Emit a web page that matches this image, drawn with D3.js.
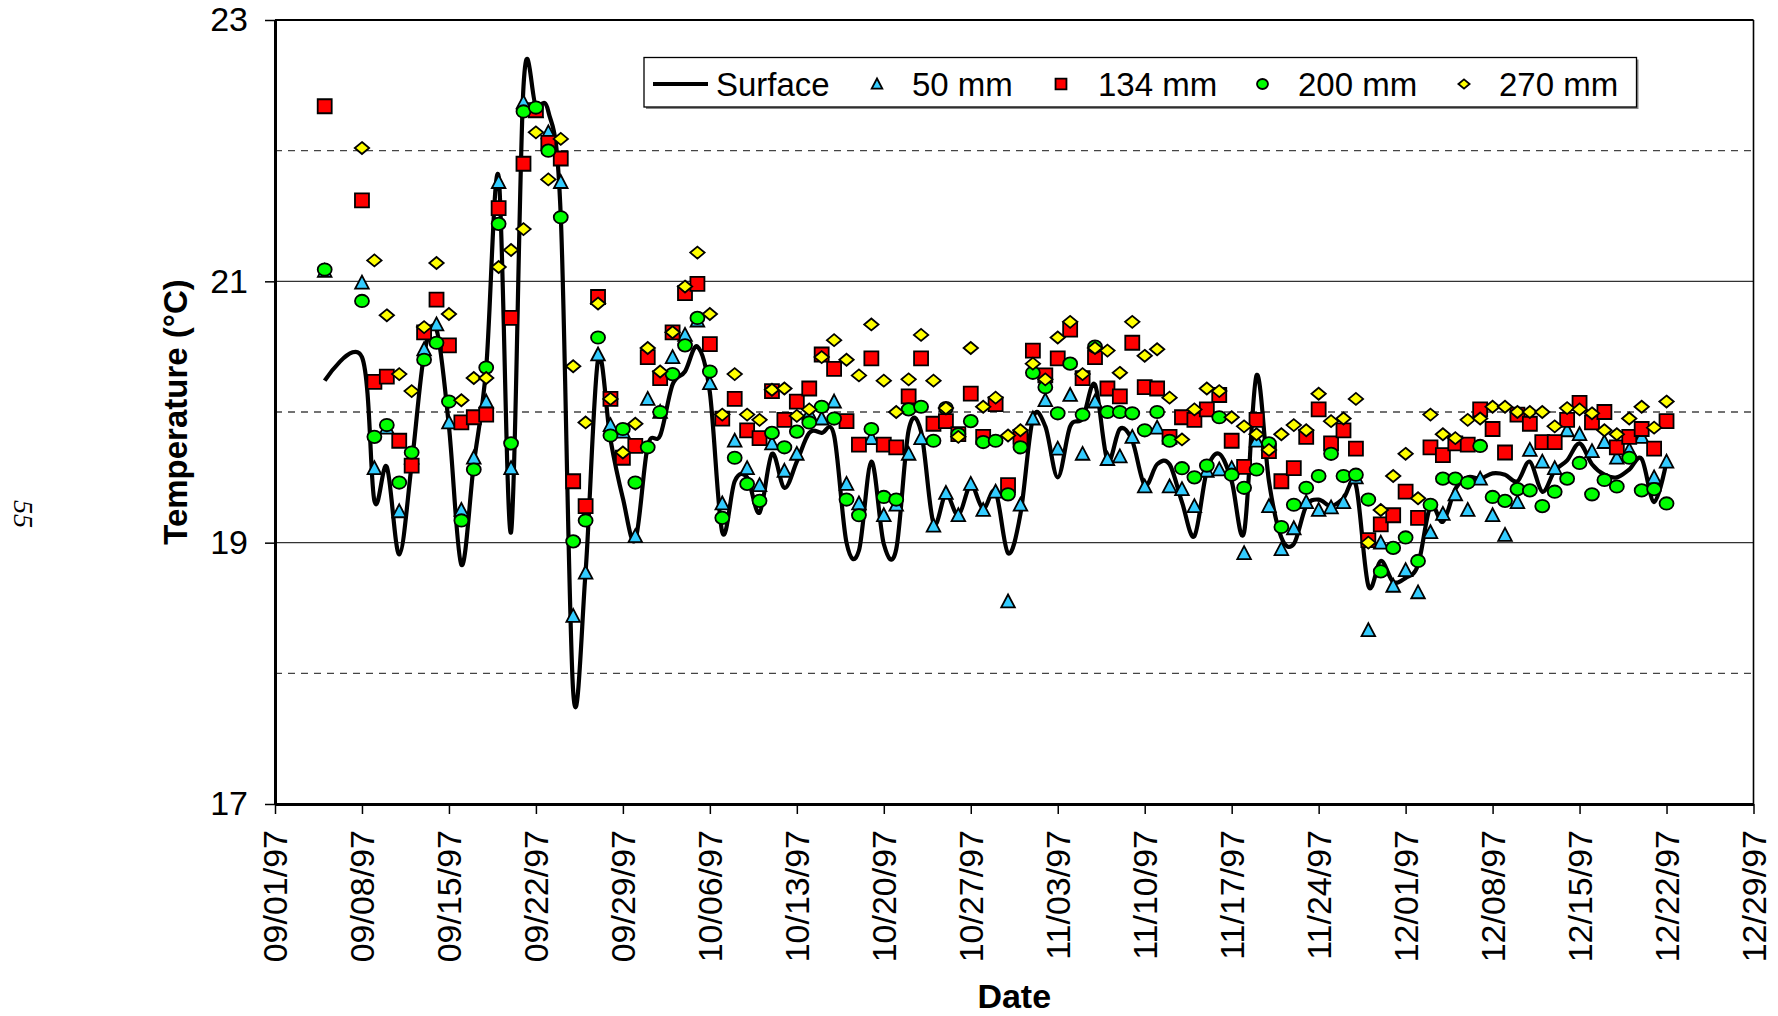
<!DOCTYPE html>
<html>
<head>
<meta charset="utf-8">
<script src="https://cdn.jsdelivr.net/npm/d3@7/dist/d3.min.js"></script>
<style>
  html, body { margin: 0; padding: 0; background: #ffffff; }
  svg { display: block; font-family: "Liberation Sans", Arial, sans-serif; }
</style>
</head>
<body>
<svg id="chart" width="1778" height="1016"></svg>
<script>
// Daily soil temperature readings, fall 1997
const dates = [
  "09/05/97",
  "09/08/97","09/09/97","09/10/97","09/11/97","09/12/97","09/13/97","09/14/97","09/15/97",
  "09/16/97","09/17/97","09/18/97","09/19/97","09/20/97","09/21/97","09/22/97","09/23/97",
  "09/24/97","09/25/97","09/26/97","09/27/97","09/28/97","09/29/97","09/30/97",
  "10/01/97","10/02/97","10/03/97","10/04/97","10/05/97","10/06/97","10/07/97","10/08/97",
  "10/09/97","10/10/97","10/11/97","10/12/97","10/13/97","10/14/97","10/15/97","10/16/97",
  "10/17/97","10/18/97","10/19/97","10/20/97","10/21/97","10/22/97","10/23/97","10/24/97",
  "10/25/97","10/26/97","10/27/97","10/28/97","10/29/97","10/30/97","10/31/97",
  "11/01/97","11/02/97","11/03/97","11/04/97","11/05/97","11/06/97","11/07/97","11/08/97",
  "11/09/97","11/10/97","11/11/97","11/12/97","11/13/97","11/14/97","11/15/97","11/16/97",
  "11/17/97","11/18/97","11/19/97","11/20/97","11/21/97","11/22/97","11/23/97","11/24/97",
  "11/25/97","11/26/97","11/27/97","11/28/97","11/29/97","11/30/97",
  "12/01/97","12/02/97","12/03/97","12/04/97","12/05/97","12/06/97","12/07/97","12/08/97",
  "12/09/97","12/10/97","12/11/97","12/12/97","12/13/97","12/14/97","12/15/97","12/16/97",
  "12/17/97","12/18/97","12/19/97","12/20/97","12/21/97","12/22/97"
];

const surface = [
  20.24,
  20.42,19.32,19.58,18.91,19.60,20.44,20.63,19.89,
  18.83,19.60,20.34,21.80,19.08,22.49,22.34,22.30,
  21.50,17.86,18.78,20.40,19.79,19.34,19.02,
  19.74,19.82,20.21,20.31,20.50,20.15,19.08,19.47,
  19.50,19.23,19.68,19.42,19.62,19.84,19.84,19.82,
  19.00,18.94,19.62,18.99,18.95,19.86,19.85,19.15,
  19.37,19.21,19.44,19.26,19.39,18.92,19.22,
  19.95,19.89,19.50,19.89,19.95,20.21,19.63,19.87,
  19.78,19.44,19.60,19.60,19.31,19.05,19.55,19.68,
  19.47,19.08,20.28,19.47,19.04,18.99,19.28,19.33,
  19.28,19.34,19.44,18.67,18.86,18.70,
  18.73,18.83,19.28,19.16,19.41,19.50,19.49,19.53,
  19.52,19.47,19.62,19.39,19.55,19.63,19.76,19.60,
  19.52,19.50,19.56,19.64,19.31,19.62
];

const depth50 = [
  21.08,
  20.99,19.57,19.88,19.24,19.65,20.48,20.67,19.92,
  19.25,19.65,20.08,21.76,19.57,22.37,22.30,22.14,
  21.76,18.44,18.77,20.44,19.90,19.85,19.05,
  20.10,20.00,20.42,20.59,20.70,20.22,19.30,19.78,
  19.57,19.44,19.76,19.55,19.68,19.99,19.95,20.08,
  19.45,19.30,19.80,19.21,19.29,19.68,19.80,19.13,
  19.38,19.21,19.45,19.25,19.39,18.55,19.29,
  19.95,20.09,19.72,20.13,19.68,20.08,19.64,19.66,
  19.81,19.43,19.88,19.43,19.41,19.28,19.55,19.56,
  19.57,18.92,19.78,19.28,18.95,19.11,19.31,19.25,
  19.27,19.31,19.50,18.33,19.00,18.67,
  18.79,18.62,19.08,19.22,19.37,19.25,19.49,19.21,
  19.06,19.31,19.71,19.62,19.57,19.86,19.83,19.70,
  19.77,19.65,19.71,19.81,19.50,19.62
];

const depth134 = [
  22.34,
  21.62,20.23,20.27,19.78,19.59,20.61,20.86,20.51,
  19.92,19.96,19.98,21.56,20.72,21.90,22.31,22.06,
  21.94,19.47,19.28,20.88,20.10,19.65,19.74,
  20.42,20.26,20.61,20.91,20.98,20.52,19.95,20.10,
  19.86,19.80,20.16,19.94,20.08,20.18,20.44,20.33,
  19.93,19.75,20.41,19.75,19.73,20.12,20.41,19.91,
  19.93,19.83,20.14,19.81,20.06,19.44,19.81,
  20.47,20.28,20.41,20.63,20.26,20.42,20.18,20.12,
  20.53,20.19,20.18,19.81,19.96,19.94,20.02,20.13,
  19.78,19.58,19.94,19.70,19.47,19.57,19.81,20.02,
  19.76,19.86,19.72,19.02,19.14,19.21,
  19.39,19.19,19.73,19.67,19.76,19.75,20.02,19.87,
  19.69,19.98,19.91,19.77,19.77,19.94,20.07,19.92,
  20.00,19.73,19.81,19.87,19.72,19.93
];

const depth200 = [
  21.09,
  20.85,19.81,19.90,19.46,19.69,20.40,20.53,20.08,
  19.17,19.56,20.34,21.44,19.76,22.30,22.33,22.00,
  21.49,19.01,19.17,20.57,19.82,19.87,19.46,
  19.73,20.00,20.29,20.51,20.72,20.31,19.19,19.65,
  19.45,19.32,19.84,19.73,19.85,19.92,20.04,19.95,
  19.33,19.21,19.87,19.35,19.33,20.02,20.04,19.78,
  20.03,19.83,19.93,19.77,19.78,19.37,19.73,
  20.30,20.19,19.99,20.37,19.98,20.50,20.00,20.00,
  19.99,19.86,20.00,19.78,19.57,19.50,19.59,19.96,
  19.52,19.42,19.56,19.76,19.12,19.29,19.42,19.51,
  19.68,19.51,19.52,19.33,18.78,18.96,
  19.04,18.86,19.29,19.49,19.49,19.46,19.74,19.35,
  19.32,19.41,19.40,19.28,19.39,19.49,19.61,19.37,
  19.48,19.43,19.65,19.40,19.41,19.30
];

const depth270 = [
  null,
  22.02,21.16,20.74,20.29,20.16,20.65,21.14,20.75,
  20.09,20.26,20.26,21.11,21.24,21.40,22.14,21.78,
  22.09,20.35,19.92,20.83,20.10,19.69,19.91,
  20.49,20.31,20.61,20.96,21.22,20.75,19.98,20.29,
  19.98,19.94,20.17,20.18,19.97,20.02,20.42,20.55,
  20.40,20.28,20.67,20.24,20.00,20.25,20.59,20.24,
  20.03,19.81,20.49,20.04,20.11,19.82,19.86,
  20.37,20.25,20.57,20.69,20.29,20.49,20.47,20.30,
  20.69,20.43,20.48,20.11,19.79,20.02,20.18,20.16,
  19.96,19.89,19.83,19.71,19.83,19.90,19.86,20.14,
  19.93,19.95,20.10,19.00,19.25,19.51,
  19.68,19.34,19.98,19.83,19.80,19.94,19.95,20.04,
  20.04,20.00,20.00,20.00,19.89,20.03,20.02,19.99,
  19.86,19.83,19.95,20.04,19.88,20.08
];

const xTickLabels = [
  "09/01/97","09/08/97","09/15/97","09/22/97","09/29/97","10/06/97",
  "10/13/97","10/20/97","10/27/97","11/03/97","11/10/97","11/17/97",
  "11/24/97","12/01/97","12/08/97","12/15/97","12/22/97","12/29/97"
];
const yTickLabels = [17, 19, 21, 23];
const yMinorGrid = [18, 20, 22];
const seriesNames = ["Surface", "50 mm", "134 mm", "200 mm", "270 mm"];

// ---------------------------------------------------------------
const parse = d3.timeParse("%m/%d/%y");
const fmt = d3.timeFormat("%m/%d/%y");
const svg = d3.select("#chart");

const plot = { left: 275, right: 1753.5, top: 20, bottom: 804 };

const x = d3.scaleTime()
  .domain([parse(xTickLabels[0]), parse(xTickLabels[xTickLabels.length - 1])])
  .range([plot.left, plot.right]);
const y = d3.scaleLinear().domain([17, 23]).range([plot.bottom, plot.top]);

svg.append("rect").attr("width", 1778).attr("height", 1016).attr("fill", "#fff");

// gridlines
const grid = svg.append("g");
grid.selectAll("line.major").data([19, 21]).join("line")
  .attr("x1", plot.left).attr("x2", plot.right)
  .attr("y1", d => y(d)).attr("y2", d => y(d))
  .attr("stroke", "#333").attr("stroke-width", 1.3);
grid.selectAll("line.minor").data(yMinorGrid).join("line")
  .attr("x1", plot.left).attr("x2", plot.right)
  .attr("y1", d => y(d)).attr("y2", d => y(d))
  .attr("stroke", "#444").attr("stroke-width", 1.3)
  .attr("stroke-dasharray", "7,6");

// frame (top and right edges)
svg.append("line").attr("x1", plot.left).attr("x2", plot.right)
  .attr("y1", plot.top).attr("y2", plot.top)
  .attr("stroke", "#000").attr("stroke-width", 2);
svg.append("line").attr("x1", plot.right).attr("x2", plot.right)
  .attr("y1", plot.top).attr("y2", plot.bottom)
  .attr("stroke", "#000").attr("stroke-width", 1.6);

// y axis
const yAxis = svg.append("g")
  .attr("transform", `translate(${plot.left},0)`)
  .call(d3.axisLeft(y).tickValues(yTickLabels).tickFormat(d3.format("d"))
    .tickSize(10).tickPadding(17).tickSizeOuter(0));
yAxis.select(".domain").attr("stroke", "#000").attr("stroke-width", 3);
yAxis.selectAll(".tick line").attr("stroke", "#000").attr("stroke-width", 1.5);
yAxis.selectAll(".tick text")
  .attr("font-family", "Liberation Sans, Arial, sans-serif")
  .attr("font-size", 34).attr("fill", "#000");

// x axis
const xAxis = svg.append("g")
  .attr("transform", `translate(0,${plot.bottom})`)
  .call(d3.axisBottom(x).tickValues(xTickLabels.map(parse)).tickFormat(fmt)
    .tickSize(10).tickSizeOuter(0));
xAxis.select(".domain").attr("stroke", "#000").attr("stroke-width", 3);
xAxis.selectAll(".tick line").attr("stroke", "#000").attr("stroke-width", 1.5);
xAxis.selectAll(".tick text")
  .attr("font-family", "Liberation Sans, Arial, sans-serif")
  .attr("font-size", 34).attr("fill", "#000")
  .attr("transform", "rotate(-90)")
  .attr("text-anchor", "end")
  .attr("x", -26).attr("y", 0).attr("dy", "0.35em");

// axis titles
svg.append("text")
  .attr("transform", "translate(186.5,412) rotate(-90)")
  .attr("text-anchor", "middle")
  .attr("font-size", 33).attr("font-weight", "bold")
  .text("Temperature (°C)");
svg.append("text")
  .attr("x", (plot.left + plot.right) / 2).attr("y", 1008)
  .attr("text-anchor", "middle")
  .attr("font-size", 34).attr("font-weight", "bold")
  .text("Date");

// page number
svg.append("text")
  .attr("transform", "translate(14,514) rotate(90)")
  .attr("text-anchor", "middle")
  .attr("font-family", "Liberation Serif, Times New Roman, serif")
  .attr("font-style", "italic")
  .attr("font-size", 28)
  .text("55");

// ---------------------------------------------------------------
// marker shapes
const markers = {
  tri: (s) => { const w = 6.8 * s, h = 7 * s; return `M0,${-h}L${w},${h * 0.85}L${-w},${h * 0.85}Z`; },
  sq: (s) => { const h = 7 * s; return `M${-h},${-h}H${h}V${h}H${-h}Z`; },
  dia: (s) => { const w = 7.2 * s, h = 6 * s; return `M0,${-h}L${w},0L0,${h}L${-w},0Z`; }
};

const rows = dates.map((d, i) => ({
  date: parse(d),
  s: surface[i], t: depth50[i], r: depth134[i], g: depth200[i], yl: depth270[i]
}));

// surface line, smoothed
const line = d3.line()
  .x(d => x(d.date)).y(d => y(d.s))
  .curve(d3.curveCardinal.tension(0));
svg.append("path").datum(rows)
  .attr("d", line).attr("fill", "none")
  .attr("stroke", "#000").attr("stroke-width", 4.2)
  .attr("stroke-linejoin", "round");

function applyStroke(sel) {
  return sel.attr("stroke", "#000").attr("stroke-width", 1.8);
}

// 50 mm
applyStroke(svg.append("g").selectAll("path").data(rows.filter(d => d.t != null)).join("path")
  .attr("d", markers.tri(1))
  .attr("transform", d => `translate(${x(d.date)},${y(d.t)})`)
  .attr("fill", "#33CCFF"));
// 134 mm
applyStroke(svg.append("g").selectAll("path").data(rows.filter(d => d.r != null)).join("path")
  .attr("d", markers.sq(1))
  .attr("transform", d => `translate(${x(d.date)},${y(d.r)})`)
  .attr("fill", "#FF0000"));
// 200 mm
applyStroke(svg.append("g").selectAll("ellipse").data(rows.filter(d => d.g != null)).join("ellipse")
  .attr("cx", d => x(d.date)).attr("cy", d => y(d.g))
  .attr("rx", 7).attr("ry", 6.2)
  .attr("fill", "#00FF00"));
// 270 mm
applyStroke(svg.append("g").selectAll("path").data(rows.filter(d => d.yl != null)).join("path")
  .attr("d", markers.dia(1))
  .attr("transform", d => `translate(${x(d.date)},${y(d.yl)})`)
  .attr("fill", "#FFFF00"));

// ---------------------------------------------------------------
// legend
const lg = svg.append("g");
lg.append("rect").attr("x", 646).attr("y", 59.5).attr("width", 992.5).attr("height", 49.5)
  .attr("fill", "#888");
lg.append("rect").attr("x", 644).attr("y", 57.5).attr("width", 992.5).attr("height", 49.5)
  .attr("fill", "#fff").attr("stroke", "#000").attr("stroke-width", 1.3);

const legendY = 84;
lg.append("line").attr("x1", 653).attr("x2", 708).attr("y1", legendY).attr("y2", legendY)
  .attr("stroke", "#000").attr("stroke-width", 4.2);
applyStroke(lg.append("path").attr("d", markers.tri(0.78))
  .attr("transform", `translate(877,${legendY})`).attr("fill", "#33CCFF"));
applyStroke(lg.append("path").attr("d", markers.sq(0.78))
  .attr("transform", `translate(1061,${legendY})`).attr("fill", "#FF0000"));
applyStroke(lg.append("ellipse").attr("cx", 1262.5).attr("cy", legendY)
  .attr("rx", 5.5).attr("ry", 5).attr("fill", "#00FF00"));
applyStroke(lg.append("path").attr("d", markers.dia(0.78))
  .attr("transform", `translate(1464,${legendY})`).attr("fill", "#FFFF00"));

const legendTextX = [716, 912, 1098, 1298, 1499];
lg.selectAll("text.lbl").data(seriesNames).join("text")
  .attr("x", (d, i) => legendTextX[i]).attr("y", 95.5)
  .attr("font-size", 33).attr("fill", "#000")
  .text(d => d);
</script>
</body>
</html>
